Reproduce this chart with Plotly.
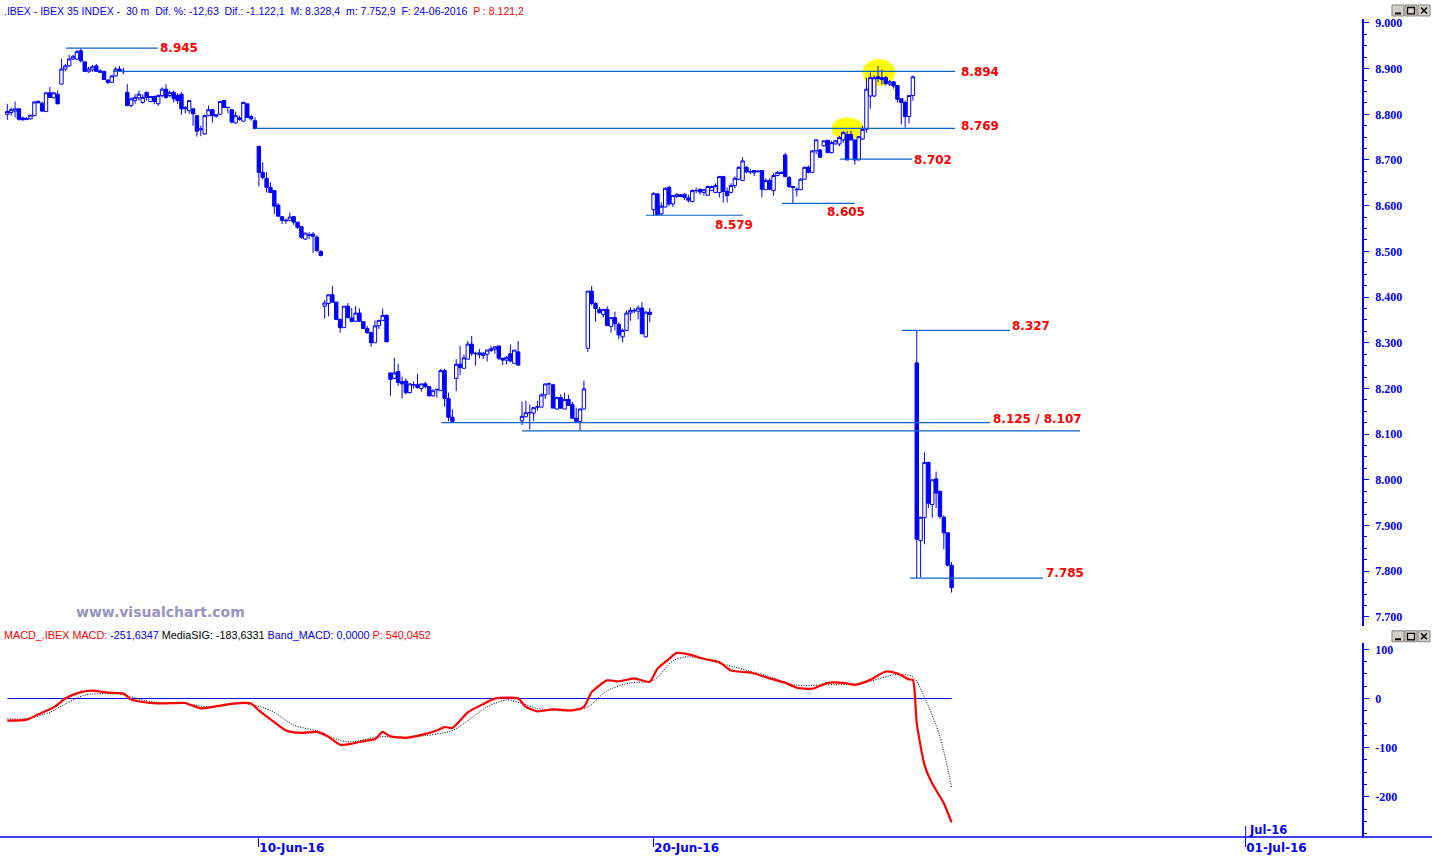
import plotly.graph_objects as go

# ---------------- data ----------------
trading_days = ["06-Jun-16", "07-Jun-16", "08-Jun-16", "09-Jun-16", "10-Jun-16",
                "13-Jun-16", "14-Jun-16", "15-Jun-16", "16-Jun-16", "17-Jun-16",
                "20-Jun-16", "21-Jun-16", "22-Jun-16", "23-Jun-16", "24-Jun-16",
                "27-Jun-16", "28-Jun-16", "29-Jun-16", "30-Jun-16", "01-Jul-16"]
BARS_PER_DAY = 17
FIRST_BAR = 3
labeled_days = ["10-Jun-16", "20-Jun-16", "01-Jul-16"]
month_label = "Jul-16"

open_ = [
 8800, 8804, 8807, 8812, 8792, 8790, 8790, 8797, 8828, 8824, 8806, 8847, 8836, 8844,
 8866, 8899, 8906, 8921, 8921, 8939, 8915, 8893, 8897, 8906, 8895, 8894, 8875, 8870, 8884, 8899, 8893,
 8848, 8819, 8830, 8836, 8826, 8848, 8828, 8839, 8823, 8841, 8855, 8841, 8848, 8841, 8844, 8815, 8808,
 8812, 8797, 8766, 8757, 8797, 8810, 8799, 8800, 8830, 8815, 8810, 8781, 8792, 8785, 8823, 8795, 8786,
 8730, 8673, 8660, 8640, 8633, 8601, 8576, 8568, 8568, 8576, 8564, 8554, 8527, 8535, 8538, 8531, 8500,
 8380, 8386, 8405, 8389, 8351, 8333, 8380, 8354, 8347, 8365, 8346, 8331, 8322, 8300, 8337, 8349, 8360,
 8234, 8222, 8237, 8215, 8216, 8191, 8208, 8208, 8200, 8210, 8204, 8184, 8197, 8195, 8239, 8178, 8137,
 8222, 8253, 8244, 8264, 8297, 8277, 8274, 8272, 8275, 8283, 8286, 8293, 8266, 8262, 8276, 8255, 8280,
 8129, 8138, 8147, 8146, 8159, 8159, 8186, 8210, 8208, 8155, 8180, 8155, 8176, 8165, 8135, 8128, 8155,
 8288, 8413, 8386, 8373, 8362, 8373, 8336, 8355, 8340, 8313, 8327, 8365, 8371, 8369, 8376, 8313, 8367,
 8591, 8626, 8582, 8597, 8640, 8604, 8620, 8620, 8625, 8617, 8609, 8633, 8636, 8629, 8623, 8633, 8629,
 8629, 8664, 8631, 8629, 8644, 8658, 8655, 8684, 8675, 8672, 8676, 8677, 8635, 8655, 8633, 8666, 8673,
 8711, 8662, 8642, 8636, 8635, 8658, 8684, 8673, 8720, 8722, 8731, 8743, 8716, 8735, 8735, 8744, 8756,
 8756, 8744, 8700, 8746, 8767, 8840, 8840, 8882, 8880, 8880, 8866, 8871, 8863, 8834, 8826, 8795, 8841,
 8256, 7867, 7917, 8038, 7946, 8002, 7975, 7918, 7884, 7813]
high_ = [
 8823, 8815, 8828, 8812, 8795, 8794, 8798, 8828, 8831, 8828, 8848, 8860, 8848, 8852,
 8921, 8910, 8930, 8930, 8941, 8945, 8916, 8904, 8908, 8910, 8899, 8895, 8876, 8886, 8904, 8906, 8902,
 8866, 8837, 8844, 8852, 8844, 8850, 8840, 8841, 8844, 8859, 8866, 8852, 8852, 8846, 8848, 8818, 8830,
 8812, 8797, 8775, 8799, 8819, 8810, 8799, 8830, 8830, 8816, 8810, 8806, 8797, 8828, 8823, 8799, 8793,
 8730, 8695, 8673, 8651, 8634, 8606, 8577, 8572, 8585, 8577, 8564, 8555, 8540, 8542, 8542, 8535, 8502,
 8393, 8405, 8424, 8389, 8353, 8380, 8387, 8376, 8380, 8375, 8346, 8337, 8324, 8349, 8349, 8375, 8362,
 8234, 8267, 8254, 8226, 8222, 8210, 8215, 8232, 8210, 8215, 8204, 8198, 8198, 8243, 8243, 8191, 8154,
 8264, 8293, 8274, 8304, 8315, 8280, 8286, 8280, 8284, 8293, 8293, 8293, 8267, 8271, 8296, 8284, 8304,
 8171, 8173, 8165, 8158, 8173, 8189, 8210, 8213, 8210, 8182, 8187, 8191, 8186, 8171, 8158, 8156, 8217,
 8413, 8424, 8389, 8378, 8373, 8380, 8355, 8368, 8345, 8331, 8371, 8378, 8376, 8382, 8389, 8369, 8376,
 8629, 8626, 8607, 8640, 8644, 8622, 8627, 8626, 8627, 8624, 8636, 8640, 8637, 8635, 8644, 8644, 8649,
 8665, 8665, 8640, 8649, 8664, 8686, 8706, 8687, 8680, 8677, 8677, 8677, 8660, 8660, 8671, 8675, 8675,
 8716, 8664, 8643, 8640, 8660, 8686, 8688, 8722, 8745, 8723, 8742, 8744, 8742, 8744, 8753, 8764, 8764,
 8764, 8744, 8752, 8775, 8880, 8891, 8885, 8906, 8898, 8884, 8875, 8873, 8864, 8835, 8830, 8842, 8885,
 8328, 7919, 8060, 8040, 8001, 8018, 7975, 7922, 7885, 7820]
low_ = [
 8788, 8797, 8793, 8786, 8786, 8787, 8789, 8796, 8825, 8805, 8805, 8836, 8835, 8822,
 8866, 8894, 8904, 8919, 8919, 8913, 8893, 8891, 8893, 8893, 8891, 8875, 8866, 8869, 8883, 8893, 8888,
 8818, 8815, 8823, 8830, 8823, 8830, 8828, 8823, 8819, 8837, 8834, 8837, 8826, 8823, 8799, 8802, 8801,
 8775, 8751, 8752, 8755, 8796, 8782, 8793, 8799, 8815, 8802, 8780, 8780, 8786, 8784, 8793, 8786, 8767,
 8642, 8658, 8629, 8629, 8582, 8577, 8560, 8560, 8566, 8558, 8549, 8527, 8525, 8527, 8497, 8498, 8489,
 8353, 8358, 8387, 8350, 8322, 8333, 8353, 8345, 8345, 8347, 8331, 8320, 8291, 8300, 8330, 8348, 8302,
 8184, 8220, 8206, 8178, 8187, 8189, 8200, 8200, 8193, 8200, 8182, 8182, 8180, 8195, 8160, 8128, 8125,
 8194, 8229, 8244, 8264, 8271, 8250, 8266, 8265, 8259, 8280, 8276, 8262, 8251, 8253, 8257, 8255, 8251,
 8120, 8138, 8110, 8129, 8151, 8159, 8177, 8186, 8157, 8154, 8155, 8155, 8162, 8134, 8124, 8109, 8154,
 8280, 8382, 8346, 8364, 8355, 8336, 8322, 8327, 8308, 8301, 8327, 8348, 8365, 8351, 8318, 8311, 8345,
 8578, 8579, 8579, 8597, 8599, 8597, 8617, 8618, 8612, 8607, 8607, 8627, 8624, 8622, 8623, 8632, 8627,
 8618, 8607, 8607, 8627, 8638, 8656, 8654, 8671, 8669, 8665, 8672, 8618, 8635, 8634, 8622, 8664, 8669,
 8662, 8638, 8605, 8620, 8634, 8657, 8671, 8671, 8713, 8705, 8729, 8716, 8714, 8735, 8730, 8738, 8700,
 8742, 8690, 8700, 8744, 8760, 8812, 8838, 8871, 8865, 8863, 8862, 8856, 8826, 8778, 8771, 8780, 8830,
 7785, 7787, 7859, 7938, 7917, 7938, 7915, 7848, 7811, 7753]
close_ = [
 8806, 8810, 8812, 8789, 8788, 8789, 8798, 8827, 8825, 8807, 8847, 8837, 8847, 8823,
 8899, 8906, 8921, 8927, 8937, 8917, 8894, 8899, 8904, 8894, 8892, 8876, 8870, 8884, 8899, 8895, 8894,
 8819, 8834, 8837, 8844, 8837, 8837, 8839, 8828, 8841, 8855, 8837, 8848, 8834, 8830, 8812, 8812, 8830,
 8801, 8763, 8768, 8797, 8810, 8797, 8796, 8828, 8815, 8815, 8783, 8797, 8789, 8826, 8793, 8790, 8769,
 8673, 8662, 8640, 8629, 8599, 8577, 8568, 8567, 8575, 8564, 8553, 8531, 8540, 8536, 8533, 8502, 8491,
 8387, 8405, 8389, 8351, 8333, 8380, 8355, 8347, 8365, 8347, 8331, 8322, 8300, 8337, 8349, 8360, 8302,
 8220, 8234, 8213, 8210, 8191, 8210, 8208, 8202, 8210, 8204, 8184, 8195, 8198, 8239, 8178, 8137, 8128,
 8253, 8246, 8267, 8297, 8277, 8276, 8278, 8277, 8284, 8287, 8291, 8266, 8262, 8268, 8260, 8284, 8251,
 8139, 8147, 8147, 8158, 8160, 8186, 8210, 8210, 8157, 8180, 8157, 8176, 8163, 8135, 8128, 8155, 8199,
 8413, 8386, 8375, 8366, 8373, 8338, 8355, 8342, 8317, 8327, 8365, 8371, 8370, 8376, 8320, 8367, 8362,
 8627, 8580, 8599, 8638, 8604, 8622, 8625, 8624, 8618, 8612, 8633, 8633, 8630, 8635, 8642, 8642, 8644,
 8664, 8631, 8622, 8644, 8660, 8684, 8698, 8674, 8674, 8677, 8675, 8636, 8655, 8636, 8666, 8673, 8671,
 8664, 8642, 8640, 8635, 8658, 8684, 8673, 8720, 8744, 8706, 8742, 8716, 8738, 8742, 8749, 8760, 8700,
 8744, 8700, 8751, 8767, 8855, 8880, 8880, 8878, 8876, 8867, 8871, 8862, 8833, 8826, 8795, 8841, 8882,
 7870, 7918, 8038, 7949, 8000, 7971, 7920, 7884, 7813, 7764]

# MACD readings (bar index, value)
macd_bar = [3, 8, 11, 15, 18, 22, 25, 29, 33, 35, 38, 42, 49, 50, 53, 56, 60, 64, 66, 68,
            72, 75, 79, 83, 86, 89, 92, 96, 98, 100, 102, 106, 110, 114, 116, 118, 122, 126, 129, 135,
            137, 140, 144, 149, 152, 154, 158, 161, 165, 169, 171, 174, 176, 179, 183, 187, 190, 195, 200, 204,
            207, 211, 215, 219, 222, 226, 230, 233, 236, 237, 238, 240, 242, 245, 247]
macd_val = [-45, -43, -32, -18, 0, 13, 16, 12, 10, -2, -7, -10, -9, -12, -20, -17, -12, -9, -10, -24,
            -48, -65, -70, -68, -78, -94, -92, -85, -83, -68, -77, -80, -74, -65, -58, -60, -28, -11, 0, 0,
            -17, -26, -22, -24, -17, 13, 37, 35, 41, 34, 61, 81, 93, 90, 81, 74, 57, 53, 41, 32,
            22, 20, 32, 32, 28, 38, 55, 51, 39, 38, -50, -135, -173, -213, -252]
sig_bar = [3, 8, 14, 18, 23, 29, 33, 38, 42, 49, 55, 64, 71, 77, 83, 89, 92, 99, 108, 118,
           122, 127, 132, 136, 140, 148, 153, 158, 164, 170, 175, 179, 186, 191, 199, 207, 214, 223, 233, 237,
           240, 244, 247]
sig_val = [-41, -41, -28, -11, 7, 10, 8, -3, -8, -10, -17, -10, -24, -54, -66, -85, -88, -78, -78, -65,
           -45, -17, -3, -10, -20, -25, -17, 16, 32, 37, 77, 85, 74, 64, 47, 27, 28, 30, 49, 44,
           3, -78, -180]
band_macd = 0.0

price_ticks = [7700, 7800, 7900, 8000, 8100, 8200, 8300, 8400, 8500, 8600, 8700, 8800, 8900, 9000]
price_tick_text = ["7.700", "7.800", "7.900", "8.000", "8.100", "8.200", "8.300", "8.400",
                   "8.500", "8.600", "8.700", "8.800", "8.900", "9.000"]
macd_ticks = [-200, -100, 0, 100]
macd_tick_text = ["-200", "-100", "0", "100"]

# support / resistance levels drawn on the chart
levels = [8945, 8894, 8769, 8702, 8605, 8579, 8327, 8125, 8107, 7785]
level_text = ["8.945", "8.894", "8.769", "8.702", "8.605", "8.579", "8.327", "8.125 / 8.107", "", "7.785"]
level_from = [18.2, 30.3, 67.0, 218.2, 203.2, 168.0, 234.2, 115.1, 136.0, 236.3]
level_to = [41.9, 247.9, 247.9, 236.8, 222.0, 193.1, 262.1, 256.9, 280.2, 270.6]
# label placement: (xanchor, xshift, yshift)
level_label_pos = [("left", 0, 0), ("left", 4, -1), ("left", 4, 2), ("left", 0, -1),
                   ("center", -9, -9), ("center", -9, -10), ("left", 0, 4), ("left", 1, 4),
                   ("left", 0, 0), ("left", 1, 5)]

header_main = ".IBEX - IBEX 35 INDEX -\u00a0 30 m\u00a0 Dif. %: -12,63\u00a0 Dif.: -1.122,1\u00a0 M: 8.328,4\u00a0 m: 7.752,9\u00a0 F: 24-06-2016\u00a0 "
header_price = "P : 8.121,2"

# ---------------- layout helpers ----------------
W, H = 1432, 857
PLOT_W = 1362
BLUE = "#0000ff"
LVL = "#0a64c8"
RED = "#ff0000"


def fx(px):
    return px / PLOT_W


def fy(py):
    return 1 - py / H


bars = list(range(FIRST_BAR, FIRST_BAR + len(close_)))
tick_bars = [trading_days.index(d) * BARS_PER_DAY for d in labeled_days]
x_range = [1.114, 353.05]

fig = go.Figure()

fig.add_trace(go.Candlestick(
    x=bars, open=open_, high=high_, low=low_, close=close_,
    xaxis="x", yaxis="y",
    increasing=dict(line=dict(color=BLUE, width=1), fillcolor="#ffffff"),
    decreasing=dict(line=dict(color=BLUE, width=1), fillcolor=BLUE),
    whiskerwidth=0, hoverinfo="skip", showlegend=False,
))

annotations = []
for lv, txt, a, b, pos in zip(levels, level_text, level_from, level_to, level_label_pos):
    fig.add_trace(go.Scatter(x=[a, b], y=[lv, lv], mode="lines", xaxis="x", yaxis="y",
                             line=dict(color=LVL, width=1.2), hoverinfo="skip", showlegend=False))
    if txt:
        annotations.append(dict(x=b, y=lv, xref="x", yref="y", text=txt, showarrow=False,
                                xanchor=pos[0], yanchor="middle", xshift=pos[1], yshift=pos[2],
                                font=dict(family="DejaVu Sans, Arial", size=12, color=RED, weight="bold")))

# MACD panel
fig.add_trace(go.Scatter(x=[bars[0], bars[-1]], y=[band_macd, band_macd], mode="lines",
                         xaxis="x2", yaxis="y2", line=dict(color=BLUE, width=1),
                         hoverinfo="skip", showlegend=False))
fig.add_trace(go.Scatter(x=sig_bar, y=sig_val, mode="lines", xaxis="x2", yaxis="y2",
                         line=dict(color="#000000", width=1, dash="1px,1.5px", shape="spline", smoothing=0.8),
                         hoverinfo="skip", showlegend=False))
fig.add_trace(go.Scatter(x=macd_bar, y=macd_val, mode="lines", xaxis="x2", yaxis="y2",
                         line=dict(color=RED, width=2.2, shape="spline", smoothing=0.6),
                         hoverinfo="skip", showlegend=False))

shapes = []
# yellow highlight ellipses
shapes.append(dict(type="circle", xref="x", yref="y", x0=216.0, x1=224.2, y0=8744, y1=8793,
                   fillcolor="#ffff00", line=dict(width=0), layer="below"))
shapes.append(dict(type="circle", xref="x", yref="y", x0=224.0, x1=232.4, y0=8862, y1=8921,
                   fillcolor="#ffff00", line=dict(width=0), layer="below"))
# bottom time axis line across the full width
shapes.append(dict(type="line", xref="paper", yref="paper", x0=0, x1=W / PLOT_W,
                   y0=fy(837), y1=fy(837), line=dict(color=BLUE, width=1.5)))
# month tick above the axis
shapes.append(dict(type="line", xref="x2", yref="paper", x0=tick_bars[-1], x1=tick_bars[-1],
                   y0=fy(837), y1=fy(826), line=dict(color=BLUE, width=1)))


def window_buttons(top):
    xs = [(1392, 1404), (1405, 1417), (1418, 1430)]
    for x0, x1 in xs:
        shapes.append(dict(type="rect", xref="paper", yref="paper", x0=fx(x0), x1=fx(x1),
                           y0=fy(top + 11), y1=fy(top), fillcolor="#d4d0c8",
                           line=dict(color="#808080", width=1)))
    shapes.append(dict(type="line", xref="paper", yref="paper", x0=fx(1395), x1=fx(1401),
                       y0=fy(top + 8.5), y1=fy(top + 8.5), line=dict(color="#000000", width=2)))
    shapes.append(dict(type="rect", xref="paper", yref="paper", x0=fx(1407.5), x1=fx(1414.5),
                       y0=fy(top + 9), y1=fy(top + 2.5), line=dict(color="#000000", width=1.3)))
    shapes.append(dict(type="line", xref="paper", yref="paper", x0=fx(1421), x1=fx(1427),
                       y0=fy(top + 8.5), y1=fy(top + 2.5), line=dict(color="#000000", width=1.5)))
    shapes.append(dict(type="line", xref="paper", yref="paper", x0=fx(1421), x1=fx(1427),
                       y0=fy(top + 2.5), y1=fy(top + 8.5), line=dict(color="#000000", width=1.5)))


window_buttons(2)
window_buttons(630)

annotations.append(dict(x=fx(2), y=fy(8), xref="paper", yref="paper", xanchor="left", yanchor="middle",
                        showarrow=False, font=dict(family="Liberation Sans, Arial", size=10.5, color=BLUE),
                        text=header_main + '<span style="color:#ff0000">' + header_price + "</span>"))
annotations.append(dict(x=fx(2), y=fy(634), xref="paper", yref="paper", xanchor="left", yanchor="middle",
                        showarrow=False, font=dict(family="Liberation Sans, Arial", size=10.8, color=BLUE),
                        text='<span style="color:#ff0000">MACD_.IBEX MACD:</span> -251,6347 '
                             '<span style="color:#000000">MediaSIG: -183,6331</span> '
                             'Band_MACD: 0,0000 <span style="color:#ff0000">P: 540,0452</span>'))
annotations.append(dict(x=fx(160), y=fy(611), xref="paper", yref="paper", xanchor="center",
                        yanchor="middle", showarrow=False, text="www.visualchart.com",
                        font=dict(family="DejaVu Sans, Verdana", size=14, color="#9595c0", weight="bold")))
annotations.append(dict(x=tick_bars[-1], y=fy(830), xref="x2", yref="paper", xanchor="left",
                        yanchor="middle", xshift=1, showarrow=False, text=month_label,
                        font=dict(family="DejaVu Sans, Arial", size=11.5, color=BLUE, weight="bold")))

AX_FONT = dict(family="Liberation Serif, Times New Roman", size=12, color=BLUE, weight="bold")

fig.update_layout(
    width=W, height=H,
    margin=dict(l=0, r=W - PLOT_W, t=0, b=0),
    paper_bgcolor="#ffffff", plot_bgcolor="rgba(0,0,0,0)",
    hovermode=False, showlegend=False,
    boxgap=0.12, boxgroupgap=0,
    xaxis=dict(domain=[0, 1], range=x_range, anchor="y", visible=False,
               rangeslider=dict(visible=False), fixedrange=True),
    xaxis2=dict(domain=[0, 1], range=x_range, anchor="y2", showgrid=False, zeroline=False,
                showline=False, ticks="outside", ticklen=9, tickwidth=1, tickcolor=BLUE,
                tickvals=tick_bars, ticktext=labeled_days, ticklabelposition="outside right",
                tickfont=dict(family="DejaVu Sans, Arial", size=12, color=BLUE, weight="bold"),
                fixedrange=True),
    yaxis=dict(domain=[fy(625), fy(16)], range=[7680.5, 9008.7], side="right", anchor="x",
               showgrid=False, zeroline=False, showline=True, linecolor=BLUE, linewidth=1.5,
               ticks="outside", ticklen=5, tickwidth=1, tickcolor=BLUE,
               tickvals=price_ticks, ticktext=price_tick_text, tickfont=AX_FONT,
               ticklabelstandoff=4,
               minor=dict(dtick=25, ticks="outside", ticklen=3, tickcolor=BLUE, showgrid=False),
               fixedrange=True),
    yaxis2=dict(domain=[fy(837), fy(642)], range=[-282, 113.6], side="right", anchor="x2",
                showgrid=False, zeroline=False, showline=True, linecolor=BLUE, linewidth=1.5,
                ticks="outside", ticklen=5, tickwidth=1, tickcolor=BLUE,
                tickvals=macd_ticks, ticktext=macd_tick_text, tickfont=AX_FONT,
                ticklabelstandoff=4,
                minor=dict(dtick=25, ticks="outside", ticklen=3, tickcolor=BLUE, showgrid=False),
                fixedrange=True),
    shapes=shapes,
    annotations=annotations,
)

fig.write_html("out.html", config={"displayModeBar": False},
               post_script="document.body.style.margin='0';document.body.style.overflow='hidden';")
